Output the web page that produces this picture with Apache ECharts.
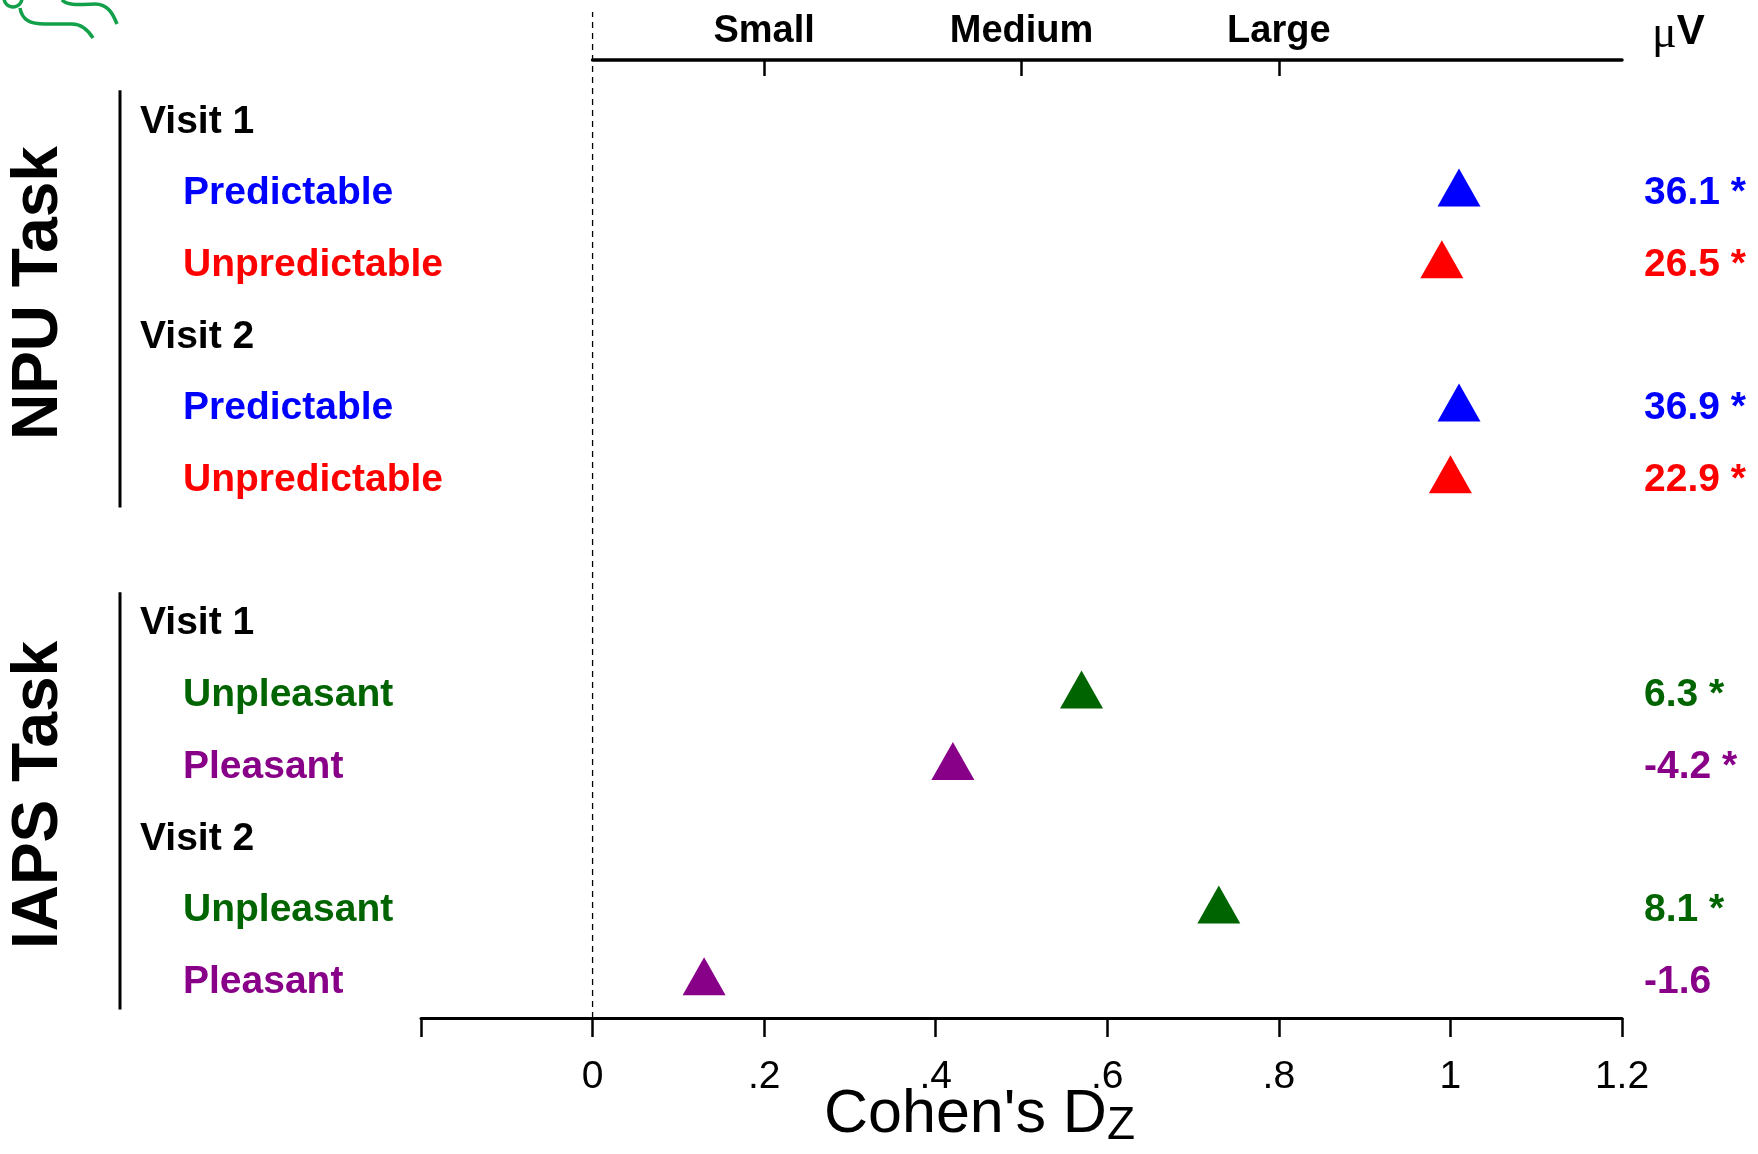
<!DOCTYPE html>
<html><head><meta charset="utf-8">
<script src="https://cdn.jsdelivr.net/npm/echarts@6/dist/echarts.min.js"></script>
<style>html,body{margin:0;padding:0;background:#fff}#c{width:1758px;height:1154px}</style>
</head><body><div id="c"></div>
<script>
// ---------------- data ----------------
const groups = ['NPU Task', 'IAPS Task'];
const visits = ['Visit 1', 'Visit 2'];
const npuConditions = ['Predictable', 'Unpredictable'];
const iapsConditions = ['Unpleasant', 'Pleasant'];
// Cohen's Dz, [visit][condition]
const npuCohensDz = [[1.01, 0.99], [1.01, 1.00]];
const iapsCohensDz = [[0.57, 0.42], [0.73, 0.13]];
// mean differences in microvolts, [visit][condition]
const npuMicroVolts = [['36.1 *', '26.5 *'], ['36.9 *', '22.9 *']];
const iapsMicroVolts = [['6.3 *', '-4.2 *'], ['8.1 *', '-1.6']];
const effectSizeNames = ['Small', 'Medium', 'Large'];
const effectSizeValues = [0.2, 0.5, 0.8];
const xTickValues = [-0.2, 0, 0.2, 0.4, 0.6, 0.8, 1, 1.2];
const xTickLabels = ['', '0', '.2', '.4', '.6', '.8', '1', '1.2'];
const xAxisTitle = "Cohen's D";
const xAxisSubscript = 'Z';
const unitMu = 'μ';
const unitV = 'V';

// ---------------- styles ----------------
const SANS = "'Liberation Sans',Arial,Helvetica,sans-serif";
const SERIF = "'Liberation Serif','DejaVu Serif',serif";
const condColors = {Predictable:'#0000ff', Unpredictable:'#ff0000', Unpleasant:'#006400', Pleasant:'#880088'};

const taskData = [
  {name: groups[0], conditions: npuConditions, dz: npuCohensDz, uv: npuMicroVolts},
  {name: groups[1], conditions: iapsConditions, dz: iapsCohensDz, uv: iapsMicroVolts}
];
const rows = [];
const seriesData = {};
const groupSpans = [];
taskData.forEach((t, gi) => {
  if (gi > 0) rows.push({kind: 'blank', label: '', uv: ''});
  const start = rows.length;
  visits.forEach((v, vi) => {
    rows.push({kind: 'visit', label: v, uv: ''});
    t.conditions.forEach((c, ci) => {
      const idx = rows.length;
      rows.push({kind: 'cond', label: c, cond: c, uv: t.uv[vi][ci]});
      (seriesData[c] = seriesData[c] || []).push([t.dz[vi][ci], idx]);
    });
  });
  groupSpans.push({name: t.name, start: start, end: rows.length - 1});
});
const categories = rows.map((r, i) => 'r' + i);

const leftRich = {visit: {color: '#000', fontSize: 39, fontWeight: 'bold', fontFamily: SANS}};
const rightRich = {};
Object.keys(condColors).forEach(c => {
  leftRich[c] = {color: condColors[c], fontSize: 39, fontWeight: 'bold', fontFamily: SANS, padding: [0, 0, 0, 43]};
  rightRich[c] = {color: condColors[c], fontSize: 39, fontWeight: 'bold', fontFamily: SANS};
});

const xMin = -0.2, xMax = 1.2;
const gridLeft = 421, gridRightPx = 1622, W = 1758, H = 1154;
const zeroX = gridLeft + (0 - xMin) / (xMax - xMin) * (gridRightPx - gridLeft);

const chart = echarts.init(document.getElementById('c'), null, {renderer: 'canvas'});

const series = Object.keys(seriesData).map(c => ({
  type: 'scatter', name: c, xAxisIndex: 0, yAxisIndex: 0,
  data: seriesData[c], symbol: 'triangle', symbolSize: [43, 38], symbolOffset: [0, -6],
  itemStyle: {color: condColors[c], opacity: 1}, silent: true, z: 5
}));
series.push({
  type: 'line', xAxisIndex: 1, yAxisIndex: 2, data: [[0, 0], [0, 1]], symbol: 'none', silent: true,
  lineStyle: {color: '#000', width: 1.3, type: [6, 5]}, z: 1
});

const green = '#13a04a';
chart.setOption({
  animation: false,
  backgroundColor: '#fff',
  grid: [
    {left: gridLeft, right: W - gridRightPx, top: 86, bottom: 136, outerBoundsMode: 'none', containLabel: false},
    {left: zeroX, right: W - gridRightPx, top: 12, bottom: 136, outerBoundsMode: 'none', containLabel: false},
    {left: zeroX, right: W - gridRightPx, top: 60, bottom: 136, outerBoundsMode: 'none', containLabel: false}
  ],
  xAxis: [
    {
      gridIndex: 0, type: 'value', position: 'bottom', offset: 0, min: xMin, max: xMax, interval: 0.2,
      axisLine: {show: true, onZero: false, lineStyle: {color: '#000', width: 3}},
      axisTick: {show: true, length: 19, lineStyle: {color: '#000', width: 2.5}},
      splitLine: {show: false},
      axisLabel: {
        margin: 40, color: '#000', fontSize: 39, fontFamily: SANS,
        formatter: v => { const i = xTickValues.findIndex(t => Math.abs(t - v) < 1e-6); return i >= 0 ? xTickLabels[i] : ''; }
      },
      name: '{a|' + xAxisTitle + '}{b|' + xAxisSubscript + '}',
      nameLocation: 'middle', nameGap: 67, nameMoveOverlap: false,
      nameTextStyle: {
        color: '#000', padding: [0, 84, 0, 0],
        rich: {
          a: {fontSize: 61, lineHeight: 64, verticalAlign: 'top', fontFamily: SANS, color: '#000'},
          b: {fontSize: 46, lineHeight: 34, verticalAlign: 'bottom', fontFamily: SANS, color: '#000'}
        }
      }
    },
    {gridIndex: 1, type: 'value', min: 0, max: xMax, show: false, axisLine: {onZero: false}},
    {
      gridIndex: 2, type: 'value', position: 'top', min: 0, max: xMax,
      axisLine: {show: true, onZero: false, lineStyle: {color: '#000', width: 3.5}},
      axisTick: {show: true, inside: true, length: 16, customValues: effectSizeValues, lineStyle: {color: '#000', width: 2.5}},
      splitLine: {show: false},
      axisLabel: {
        customValues: effectSizeValues, margin: 9, color: '#000', fontSize: 38, fontWeight: 'bold', fontFamily: SANS,
        formatter: v => { const i = effectSizeValues.findIndex(t => Math.abs(t - v) < 1e-6); return i >= 0 ? effectSizeNames[i] : ''; }
      }
    }
  ],
  yAxis: [
    {
      gridIndex: 0, type: 'category', data: categories, inverse: true, position: 'left',
      axisLine: {show: false}, axisTick: {show: false}, splitLine: {show: false},
      axisLabel: {
        interval: 0, align: 'left', margin: gridLeft - 140, rich: leftRich,
        formatter: (v, i) => { const r = rows[i]; if (!r || r.kind === 'blank') return ''; if (r.kind === 'visit') return '{visit|' + r.label + '}'; return '{' + r.cond + '|' + r.label + '}'; }
      }
    },
    {
      gridIndex: 0, type: 'category', data: categories, inverse: true, position: 'right',
      axisLine: {show: false}, axisTick: {show: false}, splitLine: {show: false},
      axisLabel: {
        interval: 0, align: 'left', margin: 22, rich: rightRich,
        formatter: (v, i) => { const r = rows[i]; if (!r || r.kind !== 'cond') return ''; return '{' + r.cond + '|' + r.uv + '}'; }
      },
      name: '{mu|' + unitMu + '}{v|' + unitV + '}', nameLocation: 'start', nameGap: 54, nameMoveOverlap: false,
      nameTextStyle: {
        align: 'left', verticalAlign: 'middle', padding: [0, 0, 0, 30],
        rich: {
          mu: {fontSize: 46, fontFamily: SERIF, color: '#000', padding: [6, 0, 0, 0]},
          v: {fontSize: 42, fontWeight: 'bold', fontFamily: SANS, color: '#000'}
        }
      }
    },
    {gridIndex: 1, type: 'value', min: 0, max: 1, show: false},
    {gridIndex: 2, type: 'value', min: 0, max: 1, show: false}
  ],
  series: series
});

// group brackets, group titles (positioned from the category axis) and corner ornament
const gEls = [
  {type: 'bezierCurve', silent: true, shape: {x1: 20, y1: 8, cpx1: 22, cpy1: 20, cpx2: 30, cpy2: 24, x2: 45, y2: 24}, style: {fill: 'none', stroke: green, lineWidth: 3.5}},
  {type: 'line', silent: true, shape: {x1: 45, y1: 24, x2: 72, y2: 24}, style: {stroke: green, lineWidth: 3.5}},
  {type: 'bezierCurve', silent: true, shape: {x1: 72, y1: 24, cpx1: 82, cpy1: 24, cpx2: 88, cpy2: 30, x2: 93, y2: 38}, style: {fill: 'none', stroke: green, lineWidth: 3.5}},
  {type: 'bezierCurve', silent: true, shape: {x1: 62, y1: 0, cpx1: 66, cpy1: 5, cpx2: 75, cpy2: 5, x2: 95, y2: 4}, style: {fill: 'none', stroke: green, lineWidth: 3.5}},
  {type: 'bezierCurve', silent: true, shape: {x1: 95, y1: 4, cpx1: 108, cpy1: 4, cpx2: 113, cpy2: 14, x2: 117, y2: 24}, style: {fill: 'none', stroke: green, lineWidth: 3.5}},
  {type: 'circle', silent: true, shape: {cx: 13, cy: -2, r: 9}, style: {fill: 'none', stroke: green, lineWidth: 3.5}}
];
groupSpans.forEach(g => {
  const y0 = chart.convertToPixel({yAxisIndex: 0}, g.start);
  const y1 = chart.convertToPixel({yAxisIndex: 0}, g.end);
  const band = chart.convertToPixel({yAxisIndex: 0}, g.start + 1) - y0;
  gEls.push({type: 'line', silent: true, shape: {x1: 120, y1: y0 - 0.44 * band, x2: 120, y2: y1 + 0.38 * band}, style: {stroke: '#000', lineWidth: 3}});
  gEls.push({type: 'text', silent: true, x: 39, y: (y0 + y1) / 2 - 8, rotation: Math.PI / 2,
    style: {text: g.name, fontSize: 64, fontWeight: 'bold', fontFamily: SANS, fill: '#000', align: 'center', verticalAlign: 'middle'}});
});
chart.setOption({graphic: gEls});
</script>
</body></html>
